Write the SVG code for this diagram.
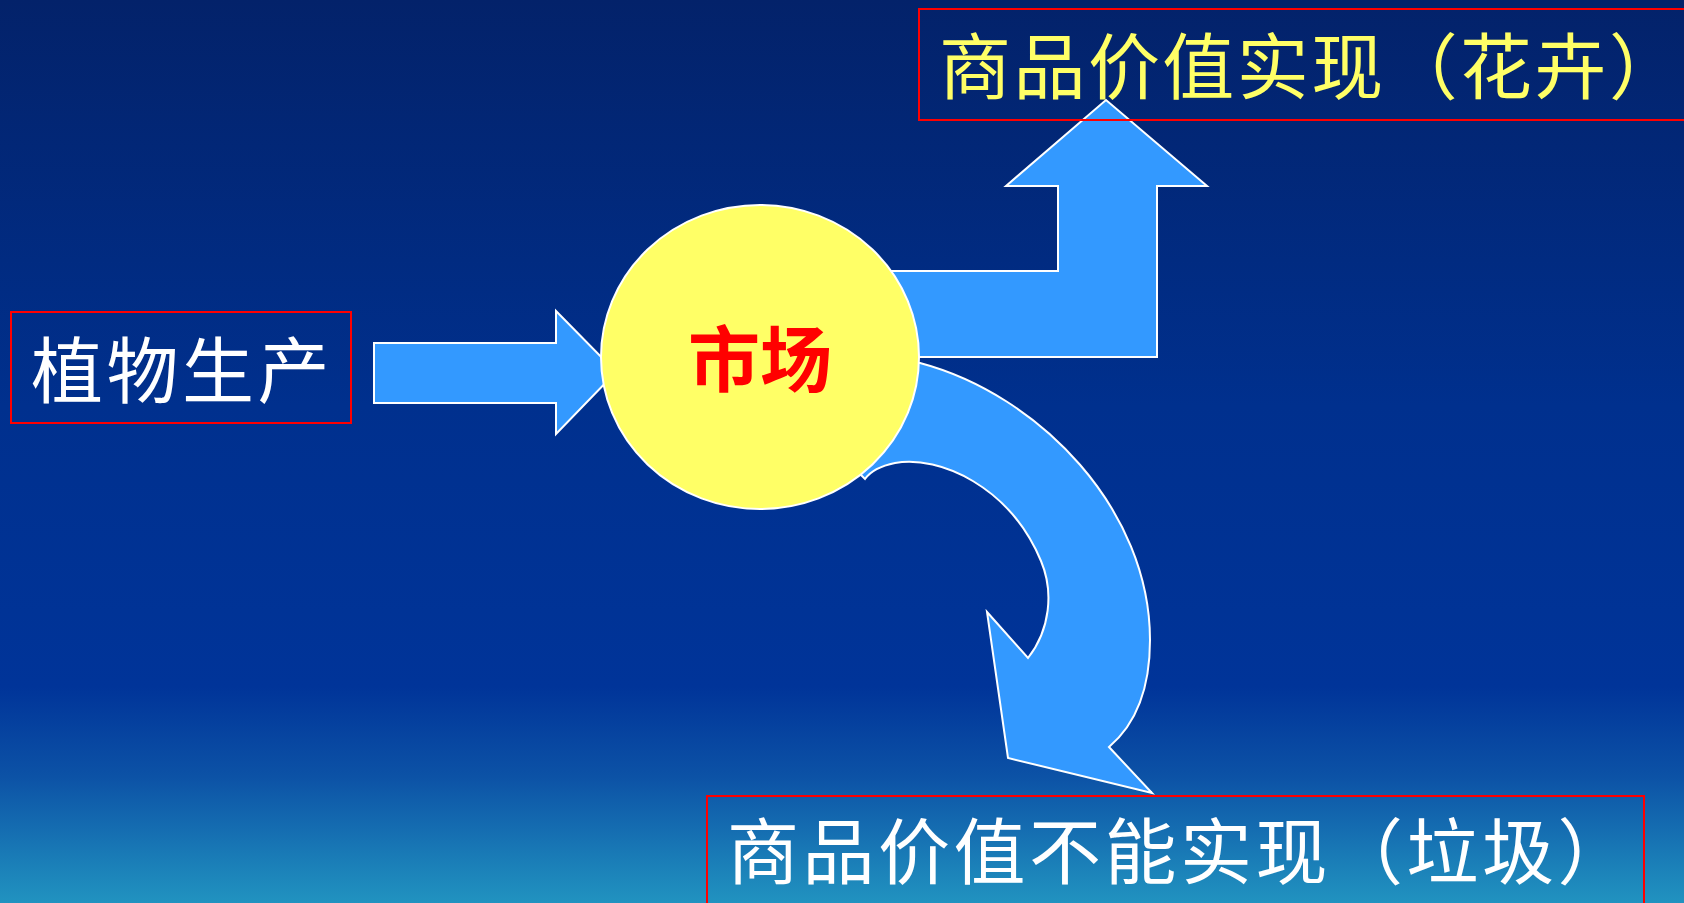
<svg xmlns="http://www.w3.org/2000/svg" width="1684" height="903" viewBox="0 0 1684 903">
  <defs>
    <linearGradient id="bg" x1="0" y1="0" x2="0" y2="1">
      <stop offset="0" stop-color="#03226a"/>
      <stop offset="0.45" stop-color="#00308e"/>
      <stop offset="0.76" stop-color="#003499"/>
      <stop offset="0.86" stop-color="#0c52a6"/>
      <stop offset="1" stop-color="#2193c0"/>
    </linearGradient>
    <style>
      .arrow { fill: #3399ff; stroke: #ffffff; stroke-width: 2; stroke-linejoin: miter; }
      .box { fill: none; stroke: #ff0000; stroke-width: 2; }
      .lbl { font-family: "Noto Sans CJK SC", "Noto Sans", sans-serif; font-size: 72px; }
      .sp { letter-spacing: 3.5px; }
    </style>
  </defs>
  <rect x="0" y="0" width="1684" height="903" fill="url(#bg)"/>

  <g id="connectors">
    <polygon class="arrow" points="374,343 556,343 556,311 616,372 556,434 556,403 374,403"/>
    <polygon class="arrow" points="860,271 1058,271 1058,186 1006,186 1106,100 1207,186 1157,186 1157,357 860,357"/>
    <path class="arrow" d="M 870 360 L 920 363 C 1040 395, 1150 510, 1150 640 C 1150 690, 1135 725, 1109 747 L 1152 793 L 1008 758 L 987 612 L 1028 658 C 1050 630, 1054 592, 1041 561 C 1010 487, 940 455, 895 463 C 880 466, 870 472, 865 479 L 860 474 L 850 420 Z"/>
  </g>

  <g id="market">
    <ellipse cx="760" cy="357" rx="159" ry="152" fill="#ffff66" stroke="#ffffff" stroke-width="2"/>
    <text class="lbl" x="760" y="386" text-anchor="middle" fill="#ff0000" font-weight="bold">市场</text>
  </g>

  <g id="plant-production">
    <rect class="box" x="11" y="312" width="340" height="111"/>
    <text class="lbl sp" x="31" y="397" fill="#ffffff">植物生产</text>
  </g>

  <g id="value-realized">
    <rect class="box" x="919" y="9" width="770" height="111"/>
    <text class="lbl" x="939" y="93" fill="#ffff66" textLength="742" lengthAdjust="spacing">商品价值实现（花卉）</text>
  </g>

  <g id="value-not-realized">
    <rect class="box" x="707" y="796" width="937" height="120"/>
    <text class="lbl sp" x="727" y="878" fill="#ffffff">商品价值不能实现（垃圾）</text>
  </g>
</svg>
